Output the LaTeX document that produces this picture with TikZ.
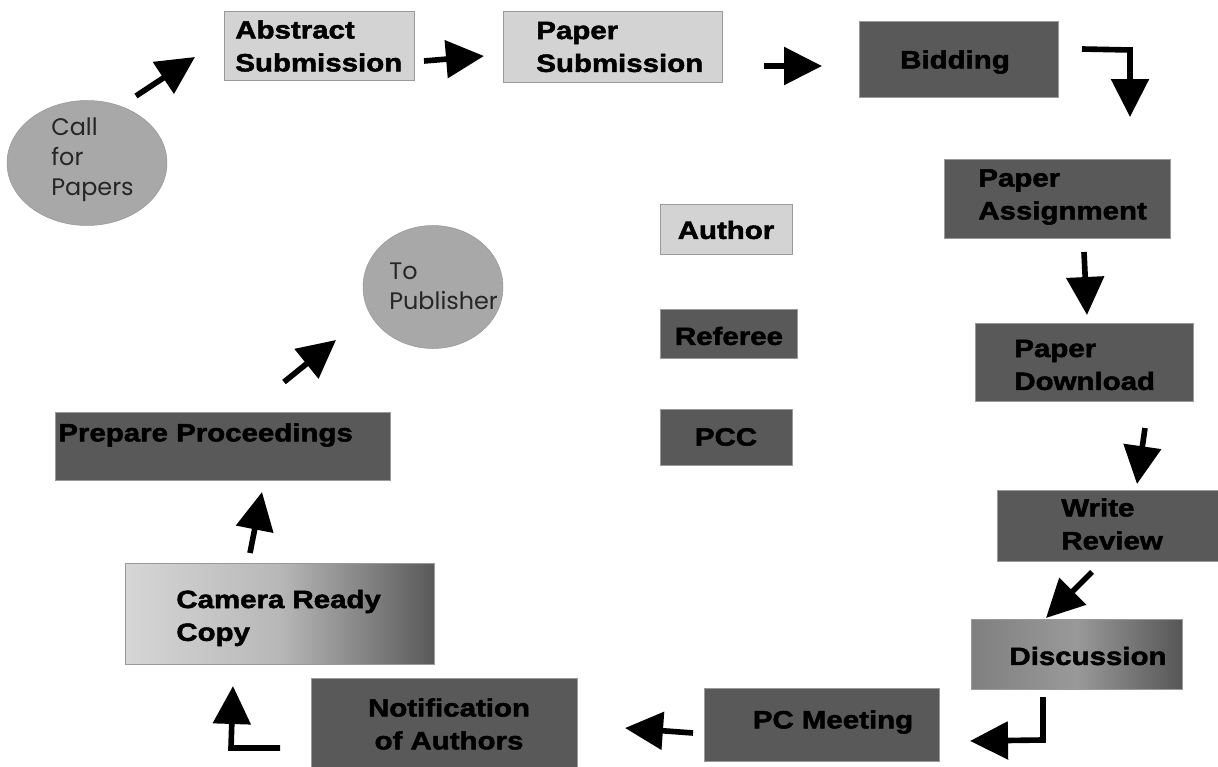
\documentclass[tikz,border=0pt]{standalone}
\usepackage{fontspec}
\usetikzlibrary{arrows.meta,shapes.geometric,fit}
\newfontfamily\blk{Liberation Sans}[FakeStretch=1.18,FakeBold=2]
\newfontfamily\gothic{Poppins}
\definecolor{lightbox}{HTML}{D3D3D3}
\definecolor{darkbox}{HTML}{595959}
\definecolor{ellgray}{HTML}{A8A8A8}
\definecolor{edgegray}{HTML}{9A9A9A}
\tikzset{
  box/.style={inner sep=0pt, draw=edgegray, line width=0.5pt},
  lbox/.style={box, fill=lightbox},
  dbox/.style={box, fill=darkbox},
  oval/.style={ellipse, inner sep=0pt, fill=ellgray, draw=ellgray!90!black, line width=0.3pt},
  bt/.style={font=\blk\bfseries\fontsize{14.2}{18.7}\selectfont, inner sep=0pt, text=black},
  gt/.style={font=\gothic\fontsize{13.6}{17}\selectfont, inner sep=0pt, text=black!85},
  arr/.style={line width=3.2pt, line join=miter, -{Triangle[length=0.76cm,width=0.74cm]}},
}
\begin{document}
\begin{tikzpicture}[x=0.02cm,y=-0.02cm]
\useasboundingbox (0,0) rectangle (1218,767);
\fill[white] (0,0) rectangle (1218,767);

% ellipses
\node[oval, minimum width=3.2cm, minimum height=2.5cm] (cfp) at (87,163) {};
\node[gt, anchor=west, align=left] (cfpt) at (51,160) {Call\\for\\Papers};
\node[oval, minimum width=2.8cm, minimum height=2.46cm] (pub) at (433,287) {};
\node[gt, anchor=west, align=left] (pubt) at (389,286) {To\\Publisher};

% boxes
\node[lbox, fit={(224,11) (414,80)}] (abs) {};
\node[bt, anchor=west, align=left] (abst) at (235,46) {Abstract\\Submission};
\node[lbox, fit={(503,11) (722,82)}] (pap) {};
\node[bt, anchor=west, align=left] (papt) at (536,47) {Paper\\Submission};
\node[dbox, fit={(859,21) (1058,97)}] (bid) {};
\node[bt] (bidt) at (955,62) {Bidding};
\node[dbox, fit={(944,159) (1170,238)}] (pas) {};
\node[bt, anchor=west, align=left] (past) at (978,197) {Paper\\Assignment};
\node[dbox, fit={(975,323) (1193,401)}] (pdl) {};
\node[bt, anchor=west, align=left] (pdlt) at (1014,365) {Paper\\Download};
\node[dbox, fit={(997,490) (1218,561)}] (wr) {};
\node[bt, anchor=west, align=left] (wrt) at (1061,524) {Write\\Review};
\node[box, fit={(971,619) (1182,689)}, left color=black!50, right color=black!66, middle color=black!40] (dis) {};
\node[bt] (dist) at (1088,656) {Discussion};
\node[dbox, fit={(704,688) (939,761)}] (pcm) {};
\node[bt] (pcmt) at (833,722) {PC Meeting};
\node[dbox, fit={(311,678) (577,770)}] (noa) {};
\node[bt, align=center] (noat) at (449,724) {Notification\\of Authors};
\node[box, fit={(125,563) (434,664)}, left color=black!16, right color=black!65, middle color=black!28] (cam) {};
\node[bt, anchor=west, align=left] (camt) at (176,618) {Camera Ready\\Copy};
\node[dbox, fit={(55,412) (390,480)}] (prep) {};
\node[bt, anchor=west] (prept) at (58,435) {Prepare Proceedings};

% legend
\node[lbox, fit={(660,204) (792,254)}] (aut) {};
\node[bt] (autt) at (726,230) {Author};
\node[dbox, fit={(660,309) (797,358)}] (ref) {};
\node[bt] (reft) at (729,336) {Referee};
\node[dbox, fit={(660,409) (792,465)}] (pcc) {};
\node[bt] (pcct) at (726,437) {PCC};

% arrow end points
\coordinate (a1s) at (136,96);   \coordinate (a1e) at (195,57);
\coordinate (a2s) at (424,61);   \coordinate (a2e) at (484,56);
\coordinate (a3s) at (764,66);   \coordinate (a3e) at (822,66);
\coordinate (a4s) at (1082,49);  \coordinate (a4m) at (1130,50);  \coordinate (a4e) at (1130,117);
\coordinate (a5s) at (1084,252); \coordinate (a5e) at (1087,315);
\coordinate (a6s) at (1145,428); \coordinate (a6e) at (1137,484);
\coordinate (a7s) at (1092,572); \coordinate (a7e) at (1046,618);
\coordinate (a8s) at (1043,697); \coordinate (a8m) at (1043,740); \coordinate (a8e) at (970,741);
\coordinate (a9s) at (693,733);  \coordinate (a9e) at (625,728);
\coordinate (a10s) at (280,748); \coordinate (a10m) at (231,748); \coordinate (a10e) at (233,686);
\coordinate (a11s) at (250,553); \coordinate (a11e) at (262,492);
\coordinate (a12s) at (284,382); \coordinate (a12e) at (336,340);

\draw[arr] (a1s) -- (a1e);
\draw[arr] (a2s) -- (a2e);
\draw[arr] (a3s) -- (a3e);
\draw[arr] (a4s) -- (a4m) -- (a4e);
\draw[arr] (a5s) -- (a5e);
\draw[arr] (a6s) -- (a6e);
\draw[arr] (a7s) -- (a7e);
\draw[arr] (a8s) -- (a8m) -- (a8e);
\draw[arr] (a9s) -- (a9e);
\draw[arr] (a10s) -- (a10m) -- (a10e);
\draw[arr] (a11s) -- (a11e);
\draw[arr] (a12s) -- (a12e);
\end{tikzpicture}
\end{document}
